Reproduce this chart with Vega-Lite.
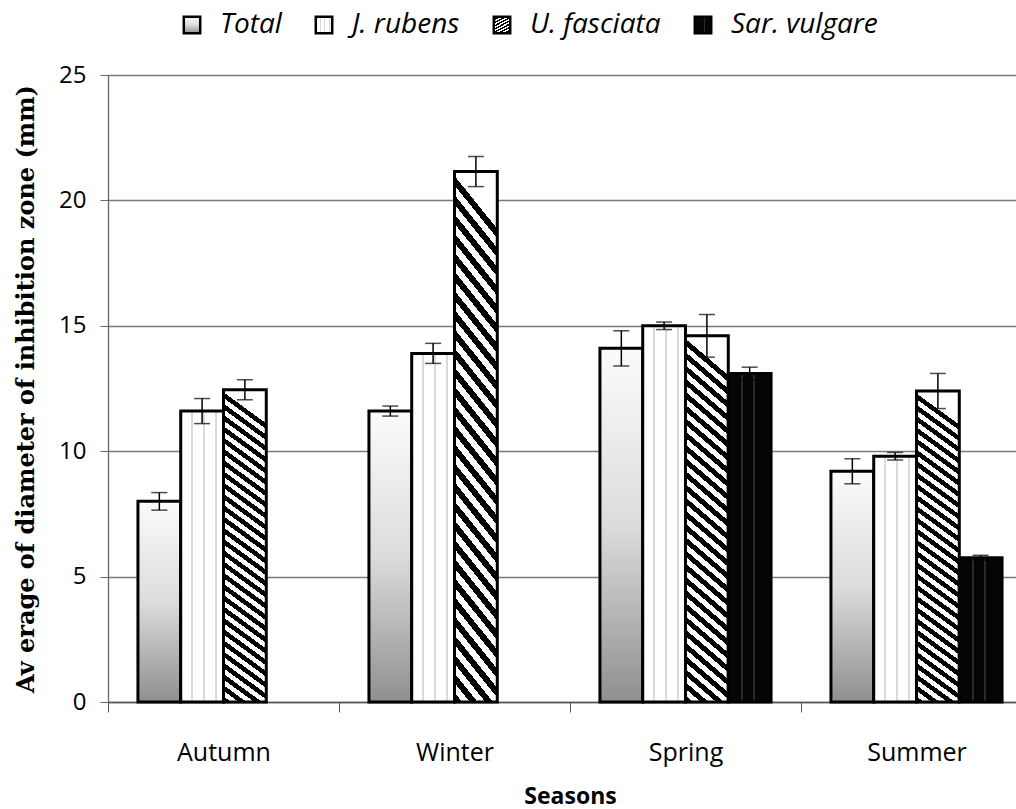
{
  "$schema": "https://vega.github.io/schema/vega-lite/v6.json",
  "width": 908,
  "height": 627,
  "autosize": {"type": "none"},
  "padding": {"left": 108, "top": 75, "right": 0, "bottom": 107},
  "background": "white",
  "config": {"view": {"stroke": null}, "font": "Open Sans"},
  "params": [
    {"name": "fillTotal", "value": {"gradient": "linear", "x1": 0, "y1": 0, "x2": 0, "y2": 1,
      "stops": [
        {"offset": 0, "color": "#fbfbfb"},
        {"offset": 0.5, "color": "#dcdcdc"},
        {"offset": 1, "color": "#8f8f8f"}
      ]}},
    {"name": "fillRubens", "value": {"gradient": "linear", "x1": 0, "y1": 0, "x2": 1, "y2": 0,
      "stops": [
        {"offset": 0, "color": "#ffffff"},
        {"offset": 0.25, "color": "#ffffff"},
        {"offset": 0.25, "color": "#dadada"},
        {"offset": 0.29, "color": "#dadada"},
        {"offset": 0.29, "color": "#ffffff"},
        {"offset": 0.53, "color": "#ffffff"},
        {"offset": 0.53, "color": "#dadada"},
        {"offset": 0.57, "color": "#dadada"},
        {"offset": 0.57, "color": "#ffffff"},
        {"offset": 0.81, "color": "#ffffff"},
        {"offset": 0.81, "color": "#dadada"},
        {"offset": 0.85, "color": "#dadada"},
        {"offset": 0.85, "color": "#ffffff"},
        {"offset": 1, "color": "#ffffff"}
      ]}},
    {"name": "fillFasciata", "value": {"gradient": "linear", "x1": 0, "y1": 1, "x2": 0.1, "y2": 0,
      "stops": [
        {"offset": 0, "color": "black"}, {"offset": 0.0179, "color": "black"}, {"offset": 0.0179, "color": "white"}, {"offset": 0.0357, "color": "white"},
        {"offset": 0.0357, "color": "black"}, {"offset": 0.0536, "color": "black"}, {"offset": 0.0536, "color": "white"}, {"offset": 0.0714, "color": "white"},
        {"offset": 0.0714, "color": "black"}, {"offset": 0.0893, "color": "black"}, {"offset": 0.0893, "color": "white"}, {"offset": 0.1071, "color": "white"},
        {"offset": 0.1071, "color": "black"}, {"offset": 0.125, "color": "black"}, {"offset": 0.125, "color": "white"}, {"offset": 0.1429, "color": "white"},
        {"offset": 0.1429, "color": "black"}, {"offset": 0.1607, "color": "black"}, {"offset": 0.1607, "color": "white"}, {"offset": 0.1786, "color": "white"},
        {"offset": 0.1786, "color": "black"}, {"offset": 0.1964, "color": "black"}, {"offset": 0.1964, "color": "white"}, {"offset": 0.2143, "color": "white"},
        {"offset": 0.2143, "color": "black"}, {"offset": 0.2321, "color": "black"}, {"offset": 0.2321, "color": "white"}, {"offset": 0.25, "color": "white"},
        {"offset": 0.25, "color": "black"}, {"offset": 0.2679, "color": "black"}, {"offset": 0.2679, "color": "white"}, {"offset": 0.2857, "color": "white"},
        {"offset": 0.2857, "color": "black"}, {"offset": 0.3036, "color": "black"}, {"offset": 0.3036, "color": "white"}, {"offset": 0.3214, "color": "white"},
        {"offset": 0.3214, "color": "black"}, {"offset": 0.3393, "color": "black"}, {"offset": 0.3393, "color": "white"}, {"offset": 0.3571, "color": "white"},
        {"offset": 0.3571, "color": "black"}, {"offset": 0.375, "color": "black"}, {"offset": 0.375, "color": "white"}, {"offset": 0.3929, "color": "white"},
        {"offset": 0.3929, "color": "black"}, {"offset": 0.4107, "color": "black"}, {"offset": 0.4107, "color": "white"}, {"offset": 0.4286, "color": "white"},
        {"offset": 0.4286, "color": "black"}, {"offset": 0.4464, "color": "black"}, {"offset": 0.4464, "color": "white"}, {"offset": 0.4643, "color": "white"},
        {"offset": 0.4643, "color": "black"}, {"offset": 0.4821, "color": "black"}, {"offset": 0.4821, "color": "white"}, {"offset": 0.5, "color": "white"},
        {"offset": 0.5, "color": "black"}, {"offset": 0.5179, "color": "black"}, {"offset": 0.5179, "color": "white"}, {"offset": 0.5357, "color": "white"},
        {"offset": 0.5357, "color": "black"}, {"offset": 0.5536, "color": "black"}, {"offset": 0.5536, "color": "white"}, {"offset": 0.5714, "color": "white"},
        {"offset": 0.5714, "color": "black"}, {"offset": 0.5893, "color": "black"}, {"offset": 0.5893, "color": "white"}, {"offset": 0.6071, "color": "white"},
        {"offset": 0.6071, "color": "black"}, {"offset": 0.625, "color": "black"}, {"offset": 0.625, "color": "white"}, {"offset": 0.6429, "color": "white"},
        {"offset": 0.6429, "color": "black"}, {"offset": 0.6607, "color": "black"}, {"offset": 0.6607, "color": "white"}, {"offset": 0.6786, "color": "white"},
        {"offset": 0.6786, "color": "black"}, {"offset": 0.6964, "color": "black"}, {"offset": 0.6964, "color": "white"}, {"offset": 0.7143, "color": "white"},
        {"offset": 0.7143, "color": "black"}, {"offset": 0.7321, "color": "black"}, {"offset": 0.7321, "color": "white"}, {"offset": 0.75, "color": "white"},
        {"offset": 0.75, "color": "black"}, {"offset": 0.7679, "color": "black"}, {"offset": 0.7679, "color": "white"}, {"offset": 0.7857, "color": "white"},
        {"offset": 0.7857, "color": "black"}, {"offset": 0.8036, "color": "black"}, {"offset": 0.8036, "color": "white"}, {"offset": 0.8214, "color": "white"},
        {"offset": 0.8214, "color": "black"}, {"offset": 0.8393, "color": "black"}, {"offset": 0.8393, "color": "white"}, {"offset": 0.8571, "color": "white"},
        {"offset": 0.8571, "color": "black"}, {"offset": 0.875, "color": "black"}, {"offset": 0.875, "color": "white"}, {"offset": 0.8929, "color": "white"},
        {"offset": 0.8929, "color": "black"}, {"offset": 0.9107, "color": "black"}, {"offset": 0.9107, "color": "white"}, {"offset": 0.9286, "color": "white"},
        {"offset": 0.9286, "color": "black"}, {"offset": 0.9464, "color": "black"}, {"offset": 0.9464, "color": "white"}, {"offset": 0.9643, "color": "white"},
        {"offset": 0.9643, "color": "black"}, {"offset": 0.9821, "color": "black"}, {"offset": 0.9821, "color": "white"}, {"offset": 1, "color": "white"}
      ]}},
    {"name": "fillVulgare", "value": {"gradient": "linear", "x1": 0, "y1": 0, "x2": 1, "y2": 0,
      "stops": [
        {"offset": 0, "color": "#050505"},
        {"offset": 0.3, "color": "#050505"},
        {"offset": 0.3, "color": "#2a2a2a"},
        {"offset": 0.34, "color": "#2a2a2a"},
        {"offset": 0.34, "color": "#050505"},
        {"offset": 0.58, "color": "#050505"},
        {"offset": 0.58, "color": "#2a2a2a"},
        {"offset": 0.62, "color": "#2a2a2a"},
        {"offset": 0.62, "color": "#050505"},
        {"offset": 1, "color": "#050505"}
      ]}}
  ],
  "data": {
    "values": [
      {"season": "Autumn", "species": "Total", "value": 8.0, "err": 0.35},
      {"season": "Autumn", "species": "J. rubens", "value": 11.6, "err": 0.5},
      {"season": "Autumn", "species": "U. fasciata", "value": 12.45, "err": 0.4},
      {"season": "Winter", "species": "Total", "value": 11.6, "err": 0.2},
      {"season": "Winter", "species": "J. rubens", "value": 13.9, "err": 0.4},
      {"season": "Winter", "species": "U. fasciata", "value": 21.15, "err": 0.6},
      {"season": "Spring", "species": "Total", "value": 14.1, "err": 0.7},
      {"season": "Spring", "species": "J. rubens", "value": 15.0, "err": 0.15},
      {"season": "Spring", "species": "U. fasciata", "value": 14.6, "err": 0.85},
      {"season": "Spring", "species": "Sar. vulgare", "value": 13.1, "err": 0.25},
      {"season": "Summer", "species": "Total", "value": 9.2, "err": 0.5},
      {"season": "Summer", "species": "J. rubens", "value": 9.8, "err": 0.15},
      {"season": "Summer", "species": "U. fasciata", "value": 12.4, "err": 0.7},
      {"season": "Summer", "species": "Sar. vulgare", "value": 5.75, "err": 0.1}
    ]
  },
  "encoding": {
    "x": {
      "field": "season",
      "type": "nominal",
      "sort": ["Autumn", "Winter", "Spring", "Summer"],
      "scale": {"range": [0, 924], "paddingInner": 0, "paddingOuter": 0},
      "axis": {
        "title": "Seasons",
        "tickBand": "extent",
        "tickSize": 10,
        "tickColor": "#555555",
        "domainColor": "#555555",
        "domainWidth": 1.3,
        "labelAngle": 0,
        "labelFont": "Open Sans",
        "labelFontSize": 25,
        "labelColor": "black",
        "labelPadding": 28,
        "titleFont": "Open Sans",
        "titleFontSize": 23,
        "titleFontWeight": "bold",
        "titleColor": "black",
        "titlePadding": 20,
        "grid": false
      }
    },
    "xOffset": {
      "field": "species",
      "type": "nominal",
      "scale": {
        "domain": ["Total", "J. rubens", "U. fasciata", "Sar. vulgare"],
        "paddingInner": 0,
        "paddingOuter": 0.7
      }
    },
    "y": {
      "field": "value",
      "type": "quantitative",
      "scale": {"domain": [0, 25], "nice": false},
      "axis": {
        "title": "Av erage of diameter of inhibition zone (mm)",
        "values": [0, 5, 10, 15, 20, 25],
        "grid": true,
        "gridColor": "#7a7a7a",
        "gridWidth": 1.3,
        "tickSize": 8,
        "tickColor": "#666666",
        "domainColor": "#666666",
        "domainWidth": 1.3,
        "labelFont": "Open Sans",
        "labelFontSize": 24,
        "labelColor": "black",
        "labelPadding": 14,
        "titleFont": "DejaVu Serif",
        "titleFontSize": 24,
        "titleFontWeight": "bold",
        "titleColor": "black",
        "titlePadding": 20
      }
    }
  },
  "layer": [
    {
      "mark": {
        "type": "bar",
        "strokeWidth": 3,
        "fill": {"expr": "(datum.species || datum.value) === 'Total' ? fillTotal : (datum.species || datum.value) === 'J. rubens' ? fillRubens : (datum.species || datum.value) === 'U. fasciata' ? fillFasciata : fillVulgare"}
      },
      "encoding": {
        "stroke": {
          "field": "species",
          "type": "nominal",
          "scale": {
            "domain": ["Total", "J. rubens", "U. fasciata", "Sar. vulgare"],
            "range": ["black", "black", "black", "black"]
          },
          "legend": {
            "orient": "none",
            "legendX": 70,
            "legendY": -64,
            "direction": "horizontal",
            "title": null,
            "symbolType": "square",
            "symbolSize": 270,
            "symbolStrokeWidth": 2.5,
            "labelFont": "Open Sans",
            "labelFontSize": 28,
            "labelFontStyle": "italic",
            "labelColor": "black",
            "labelOffset": 14,
            "columnPadding": 28
          }
        }
      }
    },
    {
      "mark": {
        "type": "errorbar",
        "ticks": {"size": 16, "color": "black", "thickness": 1.5},
        "rule": {"color": "black", "strokeWidth": 1.5}
      },
      "encoding": {
        "yError": {"field": "err"}
      }
    }
  ]
}
